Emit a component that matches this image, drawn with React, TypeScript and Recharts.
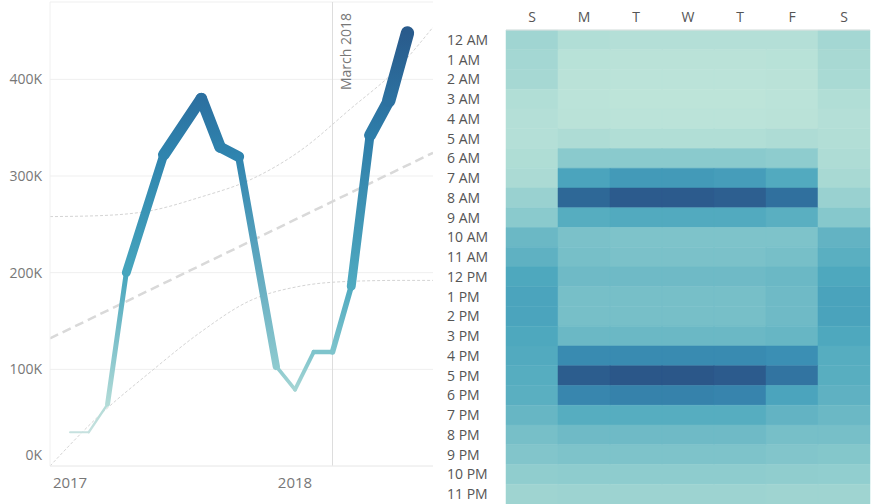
import React from 'react';
import {
  LineChart, Line, XAxis, YAxis, CartesianGrid, ReferenceLine, BarChart, Bar, Cell
} from 'recharts';

// monthly totals, month index 0 = Jan 2017
const monthIdx = [0, 1, 2, 3, 5, 7, 8, 9, 11, 12, 13, 14, 15, 16, 17, 18];
const sales = [35000, 35000, 64000, 200000, 322000, 380000, 330000, 320000, 103000, 79000, 118000, 118000, 186000, 342000, 378000, 448000];

// linear trend + confidence band
const trendX = [-1.07, 19.36];
const trendY = [132000, 324000];
const bandX = [-1.07, 1.6, 4.27, 6.93, 9.6, 12.27, 14.93, 17.6, 19.36];
const bandUpper = [258000, 259000, 264000, 278000, 296000, 326000, 369000, 414000, 454000];
const bandLower = [0, 53000, 97000, 138000, 171000, 186000, 191000, 192000, 192000];

const yearTicks = [0, 12];
const yearLabels = ['2017', '2018'];
const valueTicks = [0, 100000, 200000, 300000, 400000];
const markerMonth = 14;
const markerLabel = 'March 2018';

// heatmap: rows = hour, cols = S M T W T F S
const days = ['S', 'M', 'T', 'W', 'T', 'F', 'S'];
const hours = ['12 AM', '1 AM', '2 AM', '3 AM', '4 AM', '5 AM', '6 AM', '7 AM', '8 AM', '9 AM', '10 AM', '11 AM',
  '12 PM', '1 PM', '2 PM', '3 PM', '4 PM', '5 PM', '6 PM', '7 PM', '8 PM', '9 PM', '10 PM', '11 PM'];
const heat = [
  [18, 8, 6, 6, 6, 6, 16],
  [16, 3, 2, 2, 2, 3, 14],
  [15, 2, 1, 1, 1, 2, 13],
  [8, 1, 0, 0, 0, 1, 8],
  [6, 2, 1, 1, 1, 2, 6],
  [6, 10, 8, 8, 8, 10, 7],
  [9, 30, 30, 30, 30, 28, 10],
  [12, 62, 68, 68, 66, 58, 14],
  [22, 92, 98, 98, 96, 88, 22],
  [30, 56, 58, 58, 58, 54, 32],
  [46, 38, 36, 36, 36, 36, 50],
  [52, 40, 38, 38, 38, 40, 54],
  [60, 44, 44, 44, 44, 46, 60],
  [62, 40, 40, 40, 40, 44, 63],
  [62, 40, 40, 40, 40, 44, 63],
  [60, 46, 46, 46, 46, 48, 60],
  [58, 76, 76, 76, 76, 74, 56],
  [56, 97, 100, 100, 98, 86, 55],
  [54, 78, 80, 80, 79, 62, 52],
  [48, 56, 56, 56, 56, 50, 46],
  [40, 44, 44, 44, 44, 40, 40],
  [34, 36, 36, 36, 36, 34, 33],
  [27, 28, 28, 28, 28, 27, 26],
  [19, 20, 20, 20, 20, 19, 19],
];

const HEAT_STOPS: [number, string][] = [
  [0, '#bde4d9'], [0.15, '#a6d8d3'], [0.3, '#8acacd'], [0.45, '#6db9c5'],
  [0.6, '#4ea8be'], [0.75, '#3a8db3'], [0.88, '#30709e'], [1, '#2b5789'],
];
const LINE_STOPS: [number, string][] = [
  [0, '#dde9e8'], [0.15, '#b0dad6'], [0.3, '#6dbcc8'], [0.45, '#45a4bd'],
  [0.7, '#2f86b0'], [0.85, '#2c6f9f'], [1, '#295a8b'],
];

const hex = (c: string) => [1, 3, 5].map(i => parseInt(c.slice(i, i + 2), 16));
function interp(stops: [number, string][], t: number) {
  t = Math.max(0, Math.min(1, t));
  for (let i = 1; i < stops.length; i++) {
    if (t <= stops[i][0]) {
      const [t0, c0] = stops[i - 1];
      const [t1, c1] = stops[i];
      const f = (t - t0) / (t1 - t0);
      const a = hex(c0), b = hex(c1);
      return 'rgb(' + a.map((v, k) => Math.round(v + (b[k] - v) * f)).join(',') + ')';
    }
  }
  return stops[stops.length - 1][1];
}
const heatColor = (v: number) => interp(HEAT_STOPS, v / 100);
const lineColor = (v: number) => interp(LINE_STOPS, v / 450000);
const lineWidth = (v: number) => 1 + (v / 450000) * 13.5;

const pts = monthIdx.map((m, i) => ({ m, v: sales[i] }));
const segments = pts.slice(0, -1).map((p, i) => [p, pts[i + 1]]);
const trendData = trendX.map((m, i) => ({ m, v: trendY[i] }));
const upperData = bandX.map((m, i) => ({ m, v: bandUpper[i] }));
const lowerData = bandX.map((m, i) => ({ m, v: bandLower[i] }));

const heatRows = days.map((_d, di) => {
  const row: Record<string, number> = { id: di };
  hours.forEach((_h, hi) => { row['h' + hi] = 1; });
  return row;
});

const FONT = '"Open Sans", sans-serif';

const ValueTick = (props: any) => {
  const { x, y, payload } = props;
  const lift = payload.value === 0 ? -11 : 0;
  return (
    <text x={x} y={y + lift} dy={5} textAnchor="end" fill="#777" fontSize={14} fontFamily={FONT}>
      {`${payload.value / 1000}K`}
    </text>
  );
};

const YearTick = (props: any) => {
  const { x, y, payload } = props;
  return (
    <text x={x} y={y} dy={14} textAnchor="middle" fill="#777" fontSize={15} fontFamily={FONT}>
      {yearLabels[yearTicks.indexOf(payload.value)]}
    </text>
  );
};

const MarkerLabel = (props: any) => {
  const { viewBox } = props;
  const x = viewBox.x + 13;
  const y = 90;
  return (
    <text x={x} y={y} transform={`rotate(-90 ${x} ${y})`} dy={5} textAnchor="start" fill="#777" fontSize={14} fontFamily={FONT}>
      {markerLabel}
    </text>
  );
};

const DayTick = (props: any) => {
  const { x, payload } = props;
  return (
    <text x={x} y={22} textAnchor="middle" fill="#555" fontSize={14} fontFamily={FONT}>
      {days[payload.value]}
    </text>
  );
};

const HourTick = (props: any) => {
  const { y, payload } = props;
  return (
    <text x={7} y={y} dy={5} textAnchor="start" fill="#555" fontSize={14} fontFamily={FONT}>
      {hours[Math.floor(payload.value)]}
    </text>
  );
};

export default function App() {
  return (
    <div style={{ position: 'fixed', left: 0, top: 0, width: 871, height: 504, background: '#fff', overflow: 'hidden' }}>
      <div style={{ position: 'absolute', left: 0, top: 0 }}>
        <LineChart width={440} height={504} margin={{ top: 2, right: 7, bottom: 0, left: 0 }}>
          <defs>
            {segments.map(([a, b], i) => (
              <linearGradient key={i} id={`seg${i}`} x1="0" y1="0" x2="0" y2="1">
                <stop offset="0%" stopColor={lineColor(Math.max(a.v, b.v))} />
                <stop offset="100%" stopColor={lineColor(Math.min(a.v, b.v))} />
              </linearGradient>
            ))}
          </defs>
          <CartesianGrid vertical={false} stroke="#efefef" />
          <XAxis
            dataKey="m"
            type="number"
            domain={[-1.07, 19.36]}
            allowDataOverflow
            ticks={yearTicks}
            tick={<YearTick />}
            tickLine={false}
            axisLine={{ stroke: '#eeeeee' }}
            height={38}
          />
          <YAxis
            type="number"
            domain={[0, 480000]}
            allowDataOverflow
            ticks={valueTicks}
            tick={<ValueTick />}
            tickLine={false}
            axisLine={{ stroke: '#f0f0f0' }}
            width={50}
          />
          <ReferenceLine x={markerMonth} stroke="#dddddd" label={<MarkerLabel />} />
          <Line data={upperData} dataKey="v" type="monotone" stroke="#d4d4d4" strokeWidth={1} strokeDasharray="3 2" dot={false} isAnimationActive={false} />
          <Line data={lowerData} dataKey="v" type="monotone" stroke="#d4d4d4" strokeWidth={1} strokeDasharray="3 2" dot={false} isAnimationActive={false} />
          <Line data={trendData} dataKey="v" type="linear" stroke="#d9d9d9" strokeWidth={2.5} strokeDasharray="9 5" dot={false} isAnimationActive={false} />
          {segments.map(([a, b], i) => (
            <Line
              key={`s${i}`}
              data={[a, b]}
              dataKey="v"
              type="linear"
              stroke={a.v === b.v ? lineColor(a.v) : `url(#seg${i})`}
              strokeWidth={lineWidth((a.v + b.v) / 2)}
              strokeLinecap="round"
              strokeLinejoin="round"
              dot={false}
              activeDot={false}
              isAnimationActive={false}
            />
          ))}
        </LineChart>
      </div>
      <div style={{ position: 'absolute', left: 440, top: 0 }}>
        <BarChart width={431} height={504} data={heatRows} barCategoryGap={0} barGap={0}
          margin={{ top: 0, right: 1, bottom: 0, left: 0 }}>
          <XAxis dataKey="id" orientation="top" height={30} tick={<DayTick />} tickLine={false}
            axisLine={{ stroke: '#e2e2e2' }} interval={0} />
          <YAxis type="number" domain={[0, 24]} reversed ticks={hours.map((_h, i) => i + 0.5)}
            tick={<HourTick />} tickLine={false} axisLine={false} width={66} interval={0} />
          {hours.map((_h, hi) => (
            <Bar key={hi} dataKey={'h' + hi} stackId="a" isAnimationActive={false}>
              {days.map((_d, di) => (
                <Cell key={di} fill={heatColor(heat[hi][di])} stroke={heatColor(heat[hi][di])} strokeWidth={0.5} />
              ))}
            </Bar>
          ))}
        </BarChart>
      </div>
    </div>
  );
}
